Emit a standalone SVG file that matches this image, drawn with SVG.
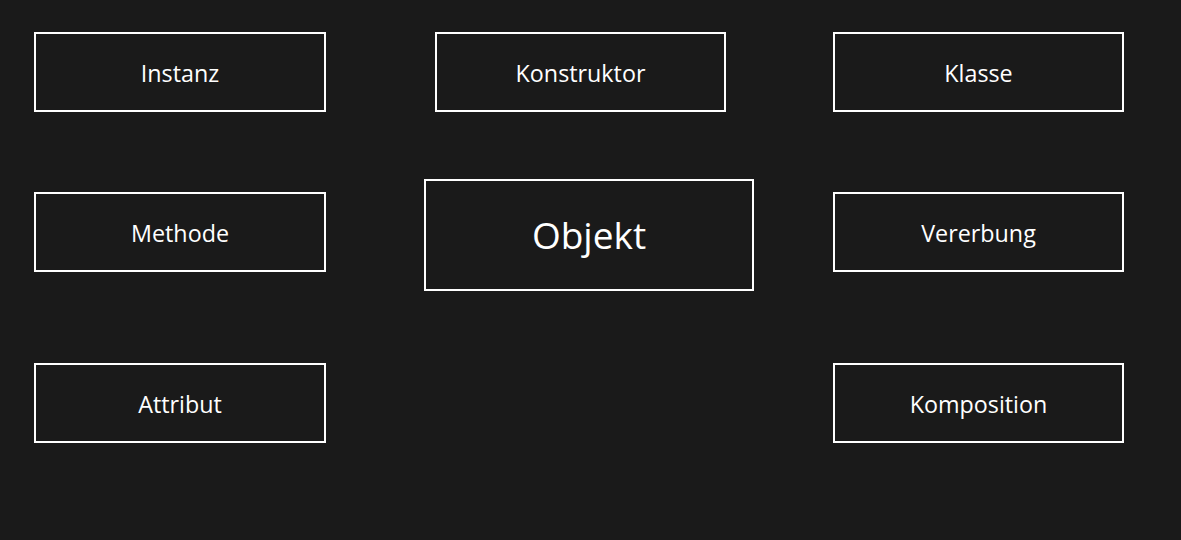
<svg xmlns="http://www.w3.org/2000/svg" width="1181" height="540" viewBox="0 0 1181 540">
<style>
.box{fill:#1a1a1a;stroke:#ffffff;stroke-width:2}
.lbl{font-family:"Open Sans","Noto Sans",sans-serif;font-size:23.3px;fill:#ffffff;text-anchor:middle}
.big{font-size:37px}
</style>
<rect x="0" y="0" width="1181" height="540" fill="#1a1a1a"/>
<g id="connectors"></g>
<g id="instanz"><rect class="box" x="35" y="33" width="290" height="78"/><text class="lbl" x="180" y="82">Instanz</text></g>
<g id="konstruktor"><rect class="box" x="436" y="33" width="289" height="78"/><text class="lbl" x="580.5" y="82">Konstruktor</text></g>
<g id="klasse"><rect class="box" x="834" y="33" width="289" height="78"/><text class="lbl" x="978.5" y="82">Klasse</text></g>
<g id="methode"><rect class="box" x="35" y="193" width="290" height="78"/><text class="lbl" x="180" y="242">Methode</text></g>
<g id="objekt"><rect class="box" x="425" y="180" width="328" height="110"/><text class="lbl big" x="589" y="249">Objekt</text></g>
<g id="vererbung"><rect class="box" x="834" y="193" width="289" height="78"/><text class="lbl" x="978.5" y="242">Vererbung</text></g>
<g id="attribut"><rect class="box" x="35" y="364" width="290" height="78"/><text class="lbl" x="180" y="413">Attribut</text></g>
<g id="komposition"><rect class="box" x="834" y="364" width="289" height="78"/><text class="lbl" x="978.5" y="413">Komposition</text></g>
</svg>
